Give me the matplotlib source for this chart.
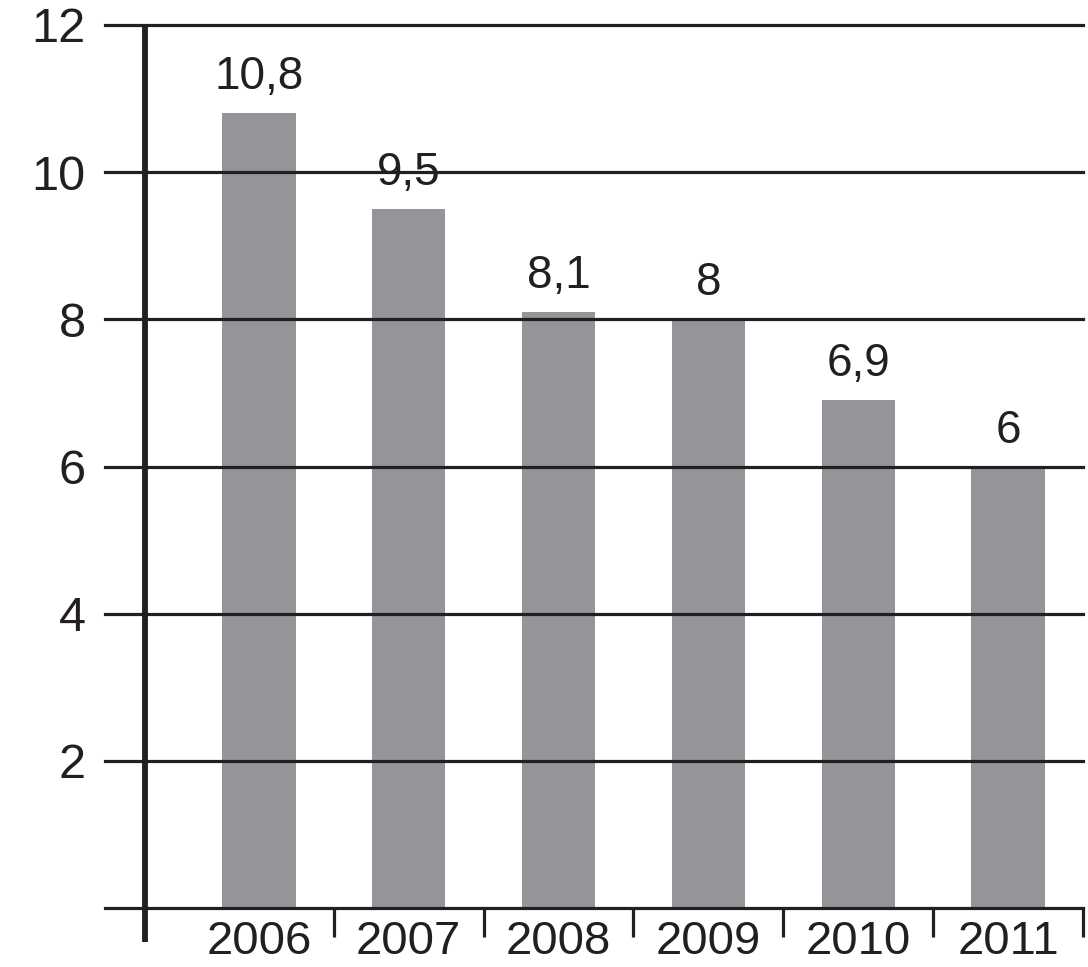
import numpy as np
import matplotlib.pyplot as plt

# data
years = ['2006', '2007', '2008', '2009', '2010', '2011']
values = [10.8, 9.5, 8.1, 8.0, 6.9, 6.0]
y_ticks = [0, 2, 4, 6, 8, 10, 12]
y_tick_labels = ['', '2', '4', '6', '8', '10', '12']

ink = '#231f20'
bar_color = '#939598'

plt.rcParams['font.family'] = ['Liberation Sans', 'DejaVu Sans']

fig = plt.figure(figsize=(10.88, 9.67), dpi=100)
W, H = 1088, 967
ax = fig.add_axes([105 / W, (H - 908) / H, (1083 - 105) / W, (908 - 25) / H])

x = np.arange(len(years))
ax.bar(x, values, width=0.49, color=bar_color, zorder=1)

# value labels with decimal comma
for xi, v in zip(x, values):
    ax.annotate(f'{v:g}'.replace('.', ','), (xi, v), xytext=(0, 10),
                textcoords='offset points', ha='center', va='bottom',
                fontsize=33, color=ink)

ax.set_xlim(-1.027, 5.49)
ax.set_ylim(0, 12)

# horizontal grid lines incl. the baseline
ax.set_yticks(y_ticks)
ax.set_yticklabels(y_tick_labels)
ax.yaxis.grid(True, color=ink, linewidth=2.3)
for gl in ax.get_ygridlines():
    gl.set_zorder(2)
    gl.set_clip_on(False)

# thick vertical axis line
ax.plot([-0.76, -0.76], [-0.46, 12.02], color=ink, linewidth=4.2,
        solid_capstyle='butt', clip_on=False, zorder=3)

# category labels and separator ticks
ax.set_xticks(x)
ax.set_xticklabels(years)
ax.set_xticks(x + 0.5, minor=True)
ax.tick_params(axis='x', which='major', length=0, pad=9, labelsize=34,
               labelcolor=ink)
ax.tick_params(axis='x', which='minor', length=21, width=2.3, color=ink,
               direction='out')
ax.tick_params(axis='y', length=0, pad=14, labelsize=35, labelcolor=ink)

for s in ax.spines.values():
    s.set_visible(False)

fig.savefig('out.png', dpi=100)
